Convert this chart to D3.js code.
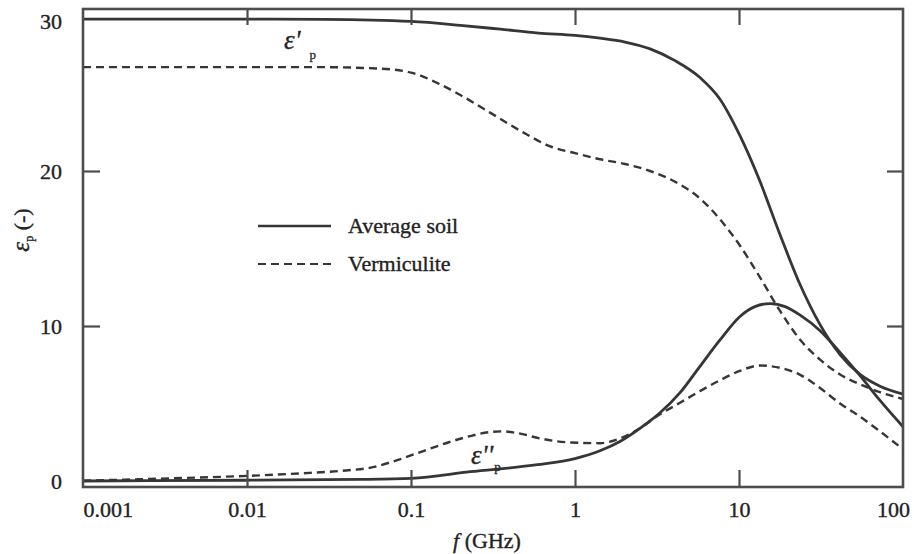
<!DOCTYPE html>
<html>
<head>
<meta charset="utf-8">
<script src="https://cdn.jsdelivr.net/npm/d3@7"></script>
<style>
  html, body { margin: 0; padding: 0; background: #fff; }
  svg { display: block; }
  text { font-family: "Liberation Serif", "DejaVu Serif", "Times New Roman", serif; fill: #222; }
</style>
</head>
<body>
<svg id="chart" width="914" height="554"></svg>
<script>
// Frequency axis (GHz) and permittivity axis
const xTickValues = [0.001, 0.01, 0.1, 1, 10, 100];
const xTickLabels = ["0.001", "0.01", "0.1", "1", "10", "100"];
const yTickValues = [0, 10, 20, 30];
const yTickLabels = ["0", "10", "20", "30"];

// Average soil, real part ε'p
const soilReFreq = [0.001, 0.01, 0.03, 0.1, 0.2, 0.35, 0.6, 1, 1.42, 2.02, 2.87, 4.07, 5.78, 7.66, 10.1, 13.4, 17.8, 23.6, 31.2, 41.3, 54.7, 72.4, 100];
const soilReVal  = [29.8, 29.8, 29.78, 29.65, 29.4, 29.15, 28.9, 28.75, 28.57, 28.32, 27.88, 27.12, 26.03, 24.63, 22.31, 19.35, 15.88, 12.66, 10.09, 8.16, 6.88, 6.12, 5.61];

// Average soil, imaginary part ε''p
const soilImFreq = [0.001, 0.01, 0.05, 0.1, 0.23, 0.59, 1, 1.42, 1.88, 2.49, 3.3, 4.37, 5.78, 7.66, 10.1, 12.5, 15.5, 19.1, 23.6, 31.2, 41.3, 54.7, 72.4, 100];
const soilImVal  = [0.0, 0.05, 0.1, 0.17, 0.6, 1.05, 1.45, 1.95, 2.55, 3.4, 4.4, 5.7, 7.4, 9.1, 10.6, 11.25, 11.45, 11.25, 10.7, 9.7, 8.3, 6.8, 5.2, 3.5];

// Vermiculite, real part ε'p
const vermReFreq = [0.001, 0.028, 0.065, 0.1, 0.15, 0.2, 0.3, 0.5, 0.7, 1, 1.42, 2.02, 2.87, 4.07, 5.78, 7.66, 10.1, 13.4, 17.8, 23.6, 31.2, 41.3, 54.7, 72.4, 100];
const vermReVal  = [26.7, 26.7, 26.6, 26.35, 25.6, 24.9, 23.8, 22.4, 21.6, 21.15, 20.76, 20.45, 20.0, 19.31, 18.23, 16.88, 15.21, 13.15, 10.97, 9.11, 7.83, 6.87, 6.24, 5.73, 5.29];

// Vermiculite, imaginary part ε''p
const vermImFreq = [0.001, 0.002, 0.005, 0.01, 0.021, 0.04, 0.056, 0.08, 0.12, 0.17, 0.23, 0.3, 0.36, 0.45, 0.61, 0.89, 1.42, 1.88, 2.49, 3.3, 4.37, 5.78, 7.66, 10.1, 13.4, 17.8, 23.6, 31.2, 41.3, 54.7, 72.4, 100];
const vermImVal  = [0.02, 0.1, 0.22, 0.33, 0.49, 0.68, 0.85, 1.3, 1.95, 2.5, 2.9, 3.15, 3.2, 3.08, 2.75, 2.5, 2.44, 2.75, 3.4, 4.3, 5.05, 5.8, 6.5, 7.1, 7.45, 7.3, 6.85, 6.0, 5.0, 4.15, 3.2, 2.05];

const series = [
  { freq: soilReFreq, val: soilReVal, dashed: false },
  { freq: soilImFreq, val: soilImVal, dashed: false },
  { freq: vermReFreq, val: vermReVal, dashed: true },
  { freq: vermImFreq, val: vermImVal, dashed: true }
];

const legendItems = [
  { label: "Average soil", dashed: false },
  { label: "Vermiculite", dashed: true }
];

const svg = d3.select("#chart");
const plot = { left: 83, right: 903, top: 9, bottom: 487 };

const x = d3.scaleLog().domain([0.001, 100]).range([plot.left, plot.right]);
const y = d3.scaleLinear().domain([0, 30]).range([481, 16]);

const frameColor = "#4d4d4d";
const lineColor = "#363636";
const textStroke = 0.35;

// Curves
const line = d3.line()
  .x(d => x(d[0]))
  .y(d => y(d[1]))
  .curve(d3.curveMonotoneX);

svg.append("g").selectAll("path")
  .data(series)
  .join("path")
  .attr("d", s => line(s.freq.map((f, i) => [f, s.val[i]])))
  .attr("fill", "none")
  .attr("stroke", lineColor)
  .attr("stroke-width", s => s.dashed ? 2.4 : 2.8)
  .attr("stroke-dasharray", s => s.dashed ? "8,5" : null)
  .attr("stroke-linejoin", "round");

// Axes with inward ticks
const fmtX = d => xTickLabels[xTickValues.indexOf(d)];
const fmtY = d => yTickLabels[yTickValues.indexOf(d)];

const gB = svg.append("g")
  .attr("transform", `translate(0,${plot.bottom})`)
  .call(d3.axisBottom(x).tickValues(xTickValues).tickFormat(fmtX).tickSize(-17).tickSizeOuter(0).tickPadding(14));
const gL = svg.append("g")
  .attr("transform", `translate(${plot.left},0)`)
  .call(d3.axisLeft(y).tickValues(yTickValues).tickFormat(fmtY).tickSize(-17).tickSizeOuter(0).tickPadding(21));
const gT = svg.append("g")
  .attr("transform", `translate(0,${plot.top})`)
  .call(d3.axisTop(x).tickValues(xTickValues.slice(1, -1)).tickFormat("").tickSize(-16).tickSizeOuter(0));
const gR = svg.append("g")
  .attr("transform", `translate(${plot.right},0)`)
  .call(d3.axisRight(y).tickValues([10, 20]).tickFormat("").tickSize(-16).tickSizeOuter(0));

[gB, gL, gT, gR].forEach(g => {
  g.select(".domain").remove();
  g.selectAll(".tick line").attr("stroke", frameColor).attr("stroke-width", 2.2);
  g.selectAll(".tick text").attr("font-size", 22).attr("fill", "#222")
    .attr("stroke", "#222").attr("stroke-width", textStroke)
    .attr("font-family", "'Liberation Serif', serif");
});
// end ticks coincide with the frame
gB.selectAll(".tick").filter(d => d === 0.001 || d === 100).select("line").remove();
gL.selectAll(".tick").filter(d => d === 0 || d === 30).select("line").remove();
gB.selectAll(".tick").filter(d => d === 0.001).select("text").attr("text-anchor", "start");
gB.selectAll(".tick").filter(d => d === 100).select("text").attr("dx", -10);
gL.selectAll(".tick").filter(d => d === 30).select("text").attr("dy", "0.55em");

// Frame
svg.append("rect")
  .attr("x", plot.left).attr("y", plot.top)
  .attr("width", plot.right - plot.left).attr("height", plot.bottom - plot.top)
  .attr("fill", "none").attr("stroke", frameColor).attr("stroke-width", 2.6);

// Axis titles
const xTitle = svg.append("text")
  .attr("x", 487).attr("y", 548)
  .attr("text-anchor", "middle")
  .attr("font-size", 22)
  .attr("stroke", "#222").attr("stroke-width", textStroke);
xTitle.append("tspan").attr("font-style", "italic").text("f");
xTitle.append("tspan").text(" (GHz)");

const yTitle = svg.append("text")
  .attr("transform", "translate(29,230) rotate(-90)")
  .attr("text-anchor", "middle")
  .attr("font-size", 22)
  .attr("stroke", "#222").attr("stroke-width", textStroke);
yTitle.append("tspan").attr("font-style", "italic").attr("font-size", 25).text("ε");
yTitle.append("tspan").attr("font-size", 12).attr("dy", 4).text("p");
yTitle.append("tspan").attr("dy", -4).text(" (-)");

// Curve annotations
const aRe = svg.append("text").attr("x", 284).attr("y", 49).attr("font-size", 27)
  .attr("stroke", "#333").attr("stroke-width", textStroke);
aRe.append("tspan").attr("font-style", "italic").text("ε'");
aRe.append("tspan").attr("font-size", 13).attr("dx", 9).attr("dy", 10).text("p");

const aIm = svg.append("text").attr("x", 471).attr("y", 464).attr("font-size", 27)
  .attr("stroke", "#333").attr("stroke-width", textStroke);
aIm.append("tspan").attr("font-style", "italic").text("ε''");
aIm.append("tspan").attr("font-size", 13).attr("dx", 1).attr("dy", 7).text("p");

// Legend
const legend = svg.append("g").attr("transform", "translate(258,226)");
const item = legend.selectAll("g")
  .data(legendItems)
  .join("g")
  .attr("transform", (d, i) => `translate(0,${i * 38})`);
item.append("line")
  .attr("x1", 0).attr("x2", 73).attr("y1", 0).attr("y2", 0)
  .attr("stroke", lineColor)
  .attr("stroke-width", d => d.dashed ? 2.2 : 2.6)
  .attr("stroke-dasharray", d => d.dashed ? "8,5" : null);
item.append("text")
  .attr("x", 90).attr("y", 7)
  .attr("font-size", 22)
  .attr("stroke", "#222").attr("stroke-width", textStroke)
  .text(d => d.label);
</script>
</body>
</html>
